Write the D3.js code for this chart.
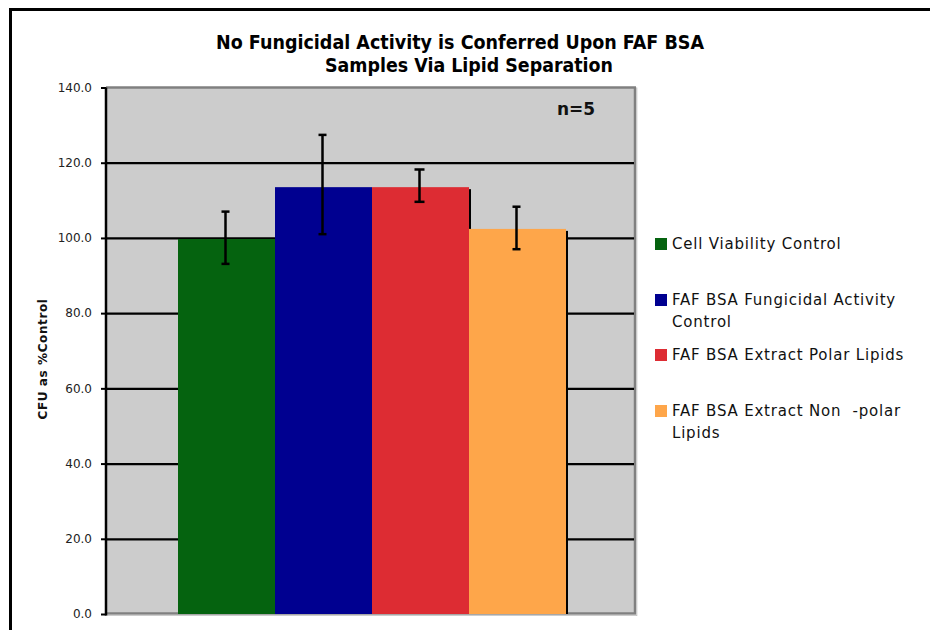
<!DOCTYPE html>
<html><head><meta charset="utf-8">
<script src="https://cdn.jsdelivr.net/npm/d3@7/dist/d3.min.js"></script>
<style>
html,body{margin:0;padding:0;background:#fff;}
svg{display:block;}
text{white-space:pre;}
</style></head>
<body>
<svg id="chart" width="930" height="630"></svg>
<script>
const categories = ["Cell Viability Control", "FAF BSA Fungicidal Activity Control", "FAF BSA Extract Polar Lipids", "FAF BSA Extract Non  -polar Lipids"];
const legendLines = [["Cell Viability Control"], ["FAF BSA Fungicidal Activity", "Control"], ["FAF BSA Extract Polar Lipids"], ["FAF BSA Extract Non  -polar", "Lipids"]];
const values = [99.7, 113.5, 113.5, 102.4];
const errPlus = [7.3, 13.9, 4.7, 5.9];
const errMinus = [6.6, 12.5, 3.9, 5.4];
const colors = ["#05630f", "#000090", "#dd2c33", "#fea64a"];
const yTicks = [0, 20, 40, 60, 80, 100, 120, 140];
const titleLines = ["No Fungicidal Activity is Conferred Upon FAF BSA", "Samples Via Lipid Separation"];
const yTitle = "CFU as %Control";
const annotation = "n=5";

const svg = d3.select("#chart");
const plot = {left: 106, right: 635, top: 87.5, bottom: 614};

// outer frame
svg.append("line").attr("x1", 9).attr("x2", 930).attr("y1", 9.5).attr("y2", 9.5).attr("stroke", "#000").attr("stroke-width", 3);
svg.append("line").attr("x1", 10.5).attr("x2", 10.5).attr("y1", 8).attr("y2", 630).attr("stroke", "#000").attr("stroke-width", 3);

const y = d3.scaleLinear().domain([0, 140]).range([plot.bottom, plot.top]);
const x = d3.scaleBand().domain(categories).range([178, 566]).padding(0);

// plot background
svg.append("rect").attr("x", plot.left).attr("y", plot.top).attr("width", plot.right - plot.left).attr("height", plot.bottom - plot.top).attr("fill", "#cccccc");
// plot border (gray)
svg.append("line").attr("x1", plot.left).attr("x2", plot.right + 1).attr("y1", plot.top).attr("y2", plot.top).attr("stroke", "#808080").attr("stroke-width", 2.5);
svg.append("line").attr("x1", plot.right).attr("x2", plot.right).attr("y1", plot.top).attr("y2", plot.bottom).attr("stroke", "#808080").attr("stroke-width", 2.5);
svg.append("line").attr("x1", plot.right + 1.8).attr("x2", plot.right + 1.8).attr("y1", plot.top).attr("y2", plot.bottom + 2).attr("stroke", "#c0c0c0").attr("stroke-width", 1);
svg.append("line").attr("x1", plot.left).attr("x2", plot.right + 1).attr("y1", plot.bottom - 0.5).attr("y2", plot.bottom - 0.5).attr("stroke", "#808080").attr("stroke-width", 2.5);
svg.append("line").attr("x1", plot.left).attr("x2", plot.right + 2).attr("y1", plot.bottom + 1.3).attr("y2", plot.bottom + 1.3).attr("stroke", "#c0c0c0").attr("stroke-width", 1);

// gridlines
const grid = svg.append("g").attr("transform", `translate(${plot.left},0)`)
  .call(d3.axisLeft(y).tickValues(yTicks.filter(d => d > 0 && d < 140)).tickSize(-(plot.right - plot.left - 1)).tickFormat(""));
grid.select(".domain").remove();
grid.selectAll(".tick line").attr("stroke", "#000").attr("stroke-width", 2.2);

// bars
const barG = svg.append("g");
values.forEach((v, i) => {
  const g = barG.append("g");
  const bx = x(categories[i]);
  const bw = x.bandwidth();
  g.append("rect").attr("x", bx + bw).attr("y", y(v) + 2).attr("width", 2).attr("height", y(0) - y(v) - 2).attr("fill", "#000");
  g.append("rect").attr("x", bx).attr("y", y(v)).attr("width", bw).attr("height", y(0) - y(v)).attr("fill", colors[i]);
});

// error bars
const errG = svg.append("g").attr("stroke", "#000").attr("stroke-width", 2.5).attr("fill", "none");
values.forEach((v, i) => {
  const cx = x(categories[i]) + x.bandwidth() / 2 - 1;
  const hi = y(v + errPlus[i]), lo = y(v - errMinus[i]);
  const cap = i % 2 === 0 && i > 0 ? 5 : 4;
  errG.append("line").attr("x1", cx).attr("x2", cx).attr("y1", hi).attr("y2", lo);
  errG.append("line").attr("x1", cx - cap).attr("x2", cx + cap).attr("y1", hi).attr("y2", hi);
  errG.append("line").attr("x1", cx - cap).attr("x2", cx + cap).attr("y1", lo).attr("y2", lo);
});

// y axis
const yAxis = svg.append("g").attr("transform", `translate(${plot.left},0)`)
  .call(d3.axisLeft(y).tickValues(yTicks).tickFormat(d3.format(".1f")).tickSize(5).tickSizeOuter(0).tickPadding(9));
yAxis.select(".domain").attr("stroke", "#000").attr("stroke-width", 2.5).attr("d", `M0,${plot.top}V${plot.bottom + 1.5}`);
yAxis.selectAll(".tick line").attr("stroke", "#000").attr("stroke-width", 2);
yAxis.selectAll(".tick text").attr("font-family", "DejaVu Sans, Verdana, sans-serif").attr("font-size", 12).attr("fill", "#222");

// y title
svg.append("text").attr("transform", "translate(47,359) rotate(-90)").attr("text-anchor", "middle")
  .attr("font-family", "DejaVu Sans, Verdana, sans-serif").attr("font-weight", "bold").attr("font-size", 12)
  .attr("letter-spacing", 0.6).attr("fill", "#111")
  .text(yTitle);

// title
const titleY = [49, 72];
const titleX = [460, 469];
const titleW = [488, 288];
titleLines.forEach((t, i) => {
  svg.append("text").attr("x", titleX[i]).attr("y", titleY[i]).attr("text-anchor", "middle")
    .attr("font-family", "DejaVu Sans, Verdana, sans-serif").attr("font-weight", "bold").attr("font-size", 19.5)
    .attr("textLength", titleW[i]).attr("lengthAdjust", "spacingAndGlyphs").attr("fill", "#000")
    .text(t);
});

// annotation
svg.append("text").attr("x", 576).attr("y", 115).attr("text-anchor", "middle")
  .attr("font-family", "DejaVu Sans, Verdana, sans-serif").attr("font-weight", "bold").attr("font-size", 17).attr("fill", "#111")
  .text(annotation);

// legend
const legendTop = [249, 305, 360, 416];
const leg = svg.append("g");
legendLines.forEach((lines, i) => {
  leg.append("rect").attr("x", 655).attr("y", legendTop[i] - 11).attr("width", 12).attr("height", 12).attr("fill", colors[i]);
  lines.forEach((ln, j) => {
    leg.append("text").attr("x", 672).attr("y", legendTop[i] + j * 21.5)
      .attr("font-family", "DejaVu Sans, Verdana, sans-serif").attr("font-size", 15).attr("letter-spacing", 0.8).attr("fill", "#111")
      .text(ln);
  });
});
</script>
</body></html>
